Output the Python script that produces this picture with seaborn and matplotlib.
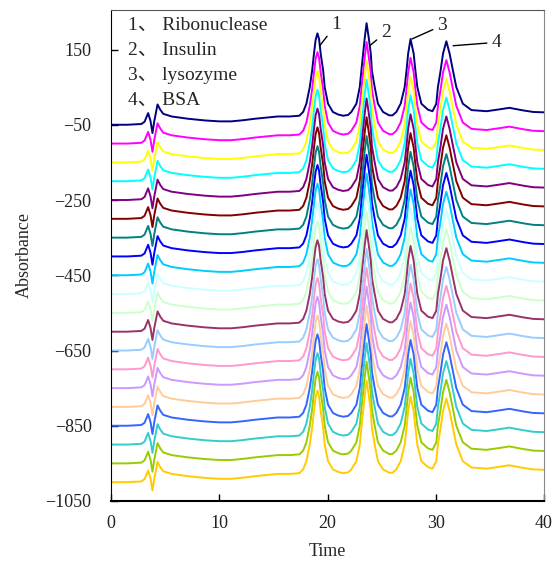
import numpy as np
import pandas as pd
import matplotlib
matplotlib.use("Agg")
import matplotlib.pyplot as plt
import seaborn as sns

# Chromatogram profile (relative to its baseline)
time_pts = [0, 1.5, 2.8, 3.1, 3.43, 3.65, 3.83, 4.0, 4.3, 4.55, 4.83, 5.6, 7.1,
            8.66, 10, 11.1, 12.2, 13.3, 15.4, 16.5, 17.4, 17.75, 18.05, 18.36,
            18.58, 18.75, 18.9, 19.07, 19.22, 19.37, 19.6, 19.74, 20.05, 20.5,
            21.0, 21.45, 21.9, 22.2, 22.67, 22.98, 23.13, 23.29, 23.45, 23.61,
            23.8, 24.0, 24.1, 24.36, 24.66, 25.13, 25.7, 26.0, 26.36, 26.76,
            27.13, 27.3, 27.45, 27.67, 27.96, 28.12, 28.3, 28.67, 29.28, 29.7,
            30.05, 30.2, 30.45, 30.67, 30.98, 31.28, 31.59, 31.9, 32.5, 33.3,
            34.7, 35.9, 36.8, 38.1, 39, 40]
profile = [0, 0, 2, 8, 31, 10, -22, 10, 54, 40, 29, 22, 16,
           11.5, 9, 9, 12, 16, 22, 22, 24, 34, 56, 100,
           144, 189, 225, 243, 228, 189, 144, 100, 56, 34,
           27, 24, 26, 34, 56, 100, 144, 189, 233, 270,
           233, 189, 144, 100, 56, 34, 25, 25, 34, 56,
           100, 144, 189, 228, 189, 144, 100, 56, 40, 36,
           56, 100, 144, 189, 222, 189, 144, 100, 56, 39,
           36, 41, 45, 38, 34, 33]

# baseline of each run (stacked)
offsets = [-50, -100, -150, -200, -250, -300, -350, -400, -450, -500,
           -550, -600, -650, -700, -750, -800, -850, -900, -950, -1000]
colors = ["#000080", "#FF00FF", "#FFFF00", "#00FFFF", "#800080", "#800000",
          "#008080", "#0000FF", "#00CCFF", "#CCFFFF", "#CCFFCC", "#993366",
          "#99CCFF", "#FF99CC", "#CC99FF", "#FFCC99", "#3366FF", "#33CCCC",
          "#99CC00", "#FFCC00"]

legend_lines = ["1、 Ribonuclease", "2、 Insulin", "3、 lysozyme", "4、 BSA"]
peak_labels = ["1", "2", "3", "4"]
peak_xy = [(19.28, 160), (23.9, 160), (27.8, 178), (31.6, 160)]
label_xy = [(20.8, 216), (25.4, 196), (30.6, 214), (35.6, 169)]

rows = []
for i, off in enumerate(offsets):
    for t, p in zip(time_pts, profile):
        rows.append({"Time": t, "Absorbance": off + p, "run": i})
df = pd.DataFrame(rows)

sns.set_style("ticks")
serif = ["Liberation Serif", "Noto Sans CJK SC"]
plt.rcParams["font.family"] = serif
plt.rcParams["axes.unicode_minus"] = True

fig = plt.figure(figsize=(5.52, 5.63), dpi=100)
ax = fig.add_axes([111 / 552, 62 / 563, 433 / 552, 491 / 563])

sns.lineplot(data=df, x="Time", y="Absorbance", hue="run", palette=colors,
             estimator=None, sort=False, legend=False, linewidth=1.4, ax=ax)

ax.set_xlim(0, 40)
ax.set_ylim(-1050, 255)
ax.set_xticks([0, 10, 20, 30, 40])
ax.set_yticks([150, -50, -250, -450, -650, -850, -1050])
ax.tick_params(direction="in", length=5, width=1, labelsize=13, colors="black")
ax.tick_params(axis="y", pad=14)
ax.tick_params(axis="x", pad=10)
for lab in ax.get_xticklabels() + ax.get_yticklabels():
    lab.set_color("#222222")

ax.spines["left"].set_color("black")
ax.spines["bottom"].set_color("black")
ax.spines["bottom"].set_linewidth(1.5)
ax.spines["top"].set_color("#555555")
ax.spines["right"].set_color("#888888")

ax.set_xlabel("Time", fontsize=13, labelpad=8)
ax.set_ylabel("Absorbance", fontsize=13, labelpad=9)

for k, txt in enumerate(legend_lines):
    ax.text(0.039, 0.968 - 0.0505 * k, txt, transform=ax.transAxes,
            fontsize=14, va="center", ha="left", family=serif)

for lab, xy, xyt in zip(peak_labels, peak_xy, label_xy):
    ax.annotate(lab, xy=xy, xytext=xyt, fontsize=14, ha="center", va="center",
                arrowprops=dict(arrowstyle="-", color="black", lw=1,
                                shrinkA=1, shrinkB=0))

fig.savefig("out.png", dpi=100)
